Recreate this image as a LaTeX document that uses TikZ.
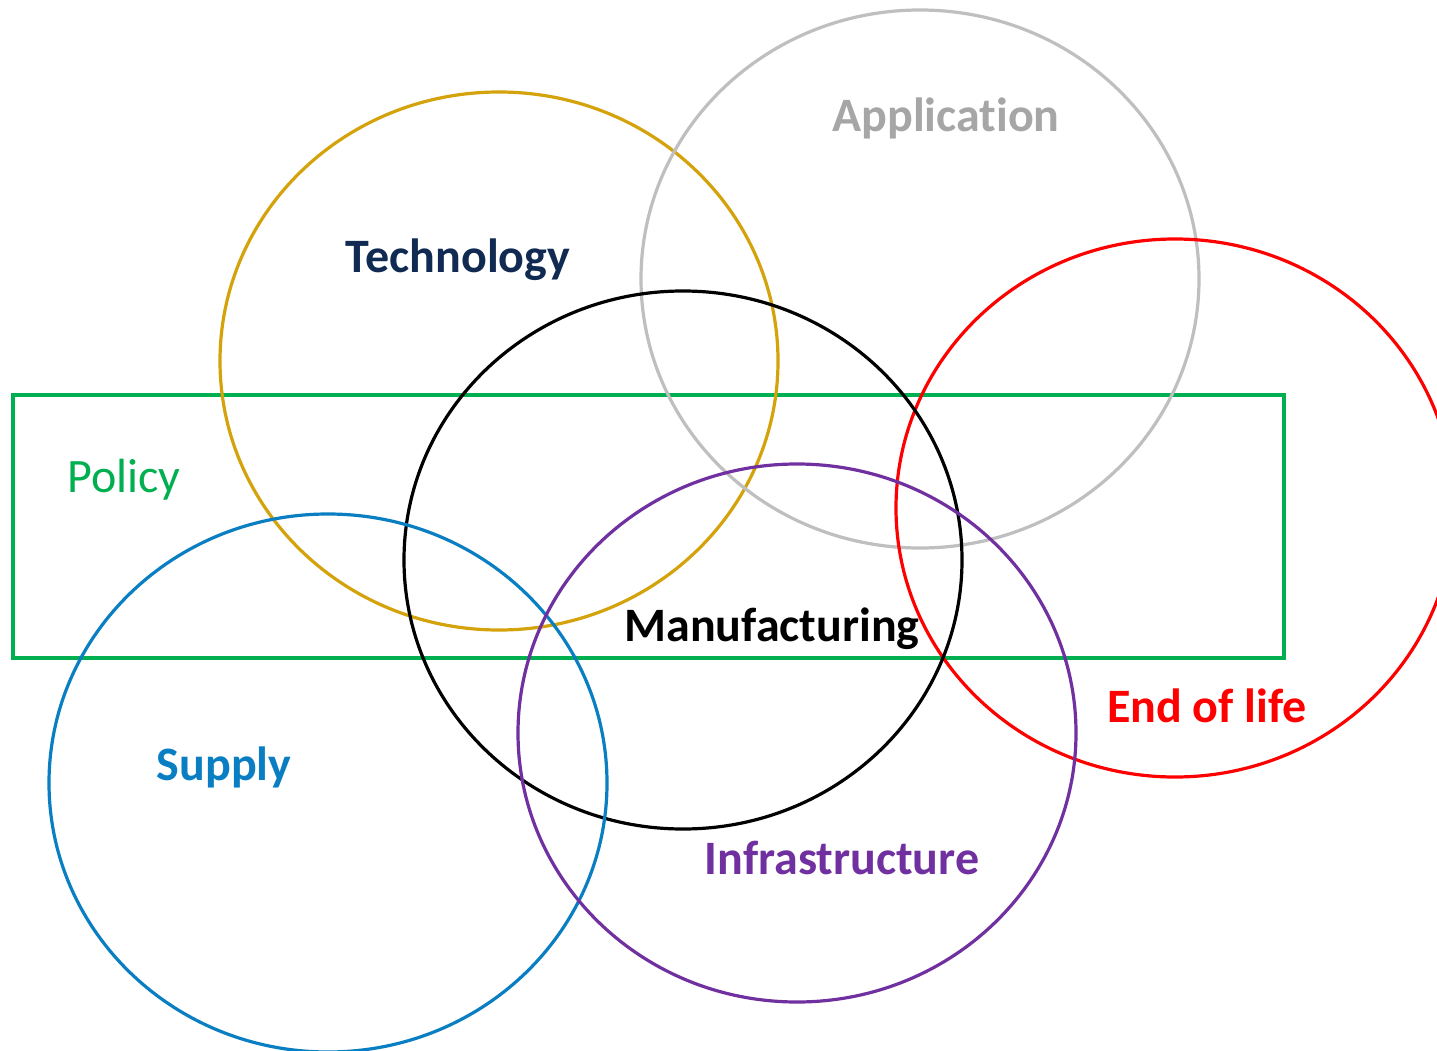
\documentclass[tikz,border=0pt]{standalone}
\usepackage{fontspec}
\setmainfont[Ligatures={NoCommon}]{Carlito}
\usetikzlibrary{shapes.geometric}
\definecolor{techgold}{HTML}{D4A20A}
\definecolor{appgray}{HTML}{BFBFBF}
\definecolor{apptext}{HTML}{A6A6A6}
\definecolor{navy}{HTML}{102A52}
\definecolor{polgreen}{HTML}{00B050}
\definecolor{supblue}{HTML}{0A7EC2}
\definecolor{infpurple}{HTML}{7030A0}
\definecolor{eolred}{HTML}{FF0000}
\tikzset{
  ring/.style={ellipse, draw, line width=3.2pt, inner sep=0pt, minimum width=558pt, minimum height=538pt},
  lbl/.style={font=\fontsize{48}{52}\selectfont\bfseries, inner sep=0pt, anchor=center},
}
\begin{document}
\begin{tikzpicture}[x=1pt,y=-1pt]
\useasboundingbox (0,0) rectangle (1437,1051);
\clip (0,0) rectangle (1437,1051);
\fill[white] (0,0) rectangle (1437,1051);
\node[draw=polgreen, line width=3.2pt, minimum width=1271pt, minimum height=263pt, inner sep=0pt] (policy) at (648.5,526.5) {};
\node[ring, draw=techgold] (tech) at (499,361) {};
\node[ring, draw=appgray] (app) at (920,279) {};
\node[ring, draw=eolred] (eol) at (1175,508) {};
\node[ring, draw=black] (manu) at (683,560) {};
\node[ring, draw=supblue] (supply) at (328,783) {};
\node[ring, draw=infpurple] (infra) at (797,733) {};
\node[lbl, text=apptext] (tapp) at (946,118) {Application};
\node[lbl, text=navy] (ttech) at (458,260) {Technology};
\node[lbl, text=polgreen, font=\fontsize{48}{52}\selectfont] (tpol) at (124,480) {Policy};
\node[lbl, text=black] (tmanu) at (772,629) {Manufacturing};
\node[lbl, text=eolred] (teol) at (1207,706) {End of life};
\node[lbl, text=supblue] (tsup) at (224,767) {Supply};
\node[lbl, text=infpurple] (tinf) at (842,858) {Infrastructure};
\end{tikzpicture}
\end{document}
